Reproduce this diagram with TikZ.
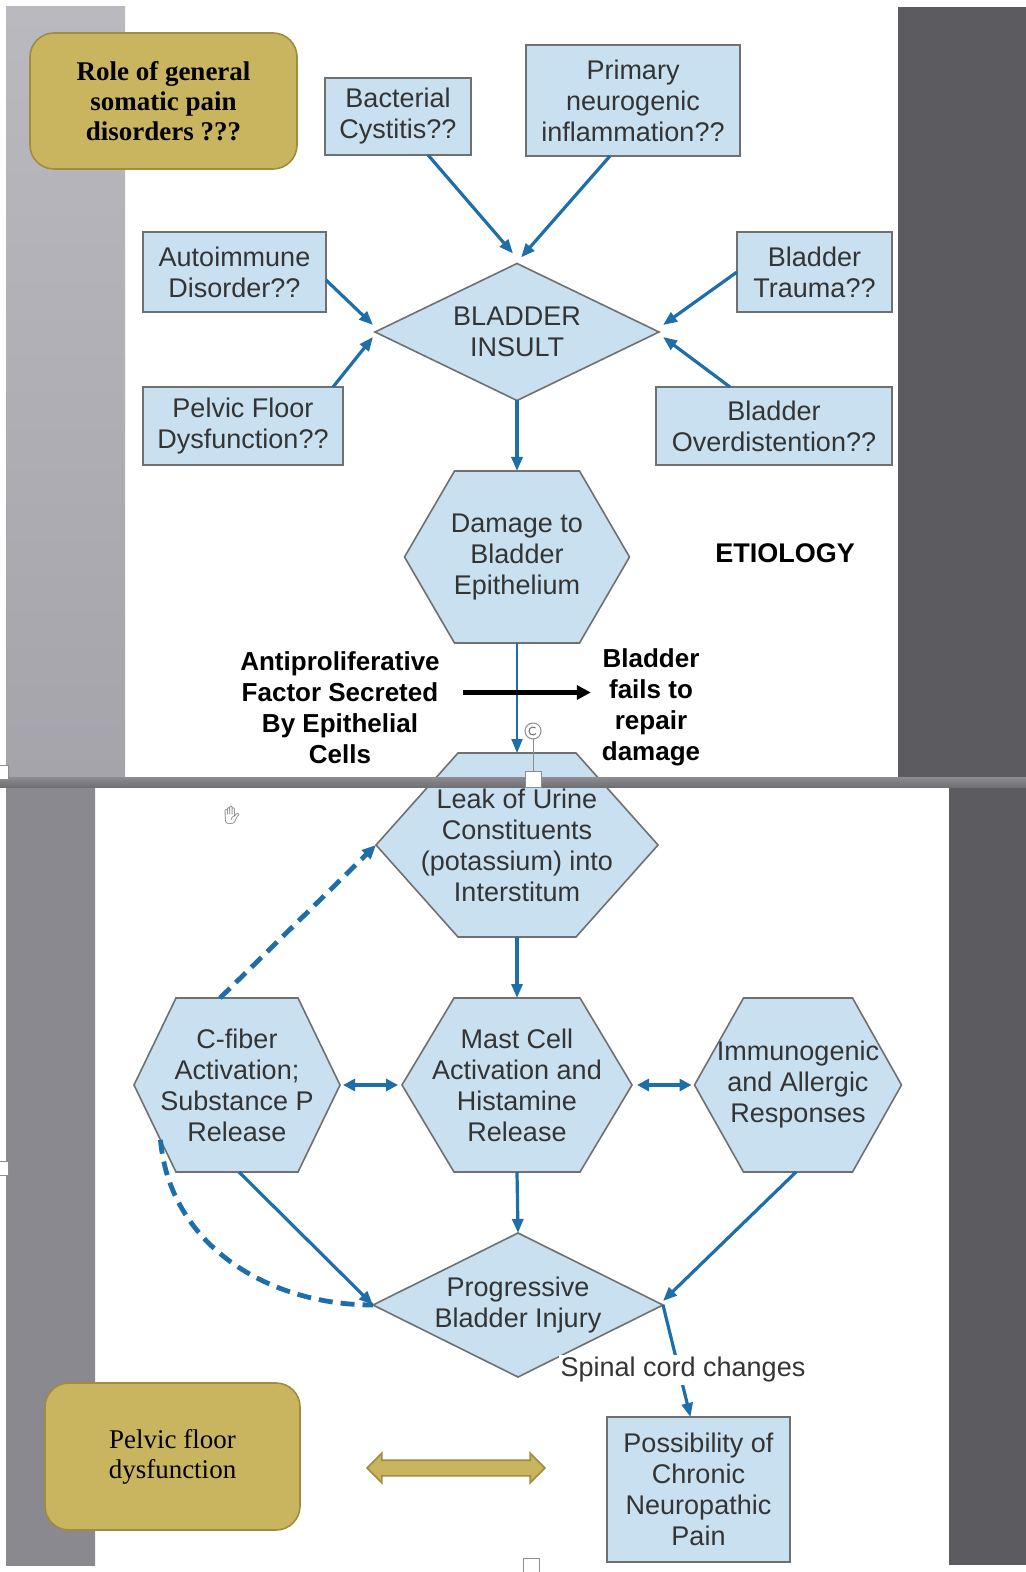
\documentclass[tikz,border=0pt]{standalone}
\usepackage{fontspec}
\setmainfont{Liberation Serif}
\setsansfont{Liberation Sans}
\newfontfamily\emojifont{Noto Emoji}
\usetikzlibrary{arrows.meta,positioning,calc,shapes.geometric,shapes.arrows}
\definecolor{boxblue}{RGB}{200,224,240}
\definecolor{boxline}{RGB}{112,112,112}
\definecolor{flowblue}{RGB}{30,110,170}
\definecolor{goldfill}{RGB}{201,181,96}
\definecolor{goldline}{RGB}{160,140,62}
\definecolor{txtgray}{RGB}{52,52,52}
\definecolor{sidelight}{RGB}{186,185,192}
\definecolor{sidemid}{RGB}{165,164,171}
\definecolor{sidedark}{RGB}{138,137,144}
\definecolor{darkside}{RGB}{92,91,96}
\definecolor{bargray}{RGB}{112,111,116}
\pgfdeclarelayer{slide}
\pgfdeclarelayer{shapes}
\pgfsetlayers{slide,shapes,main}
\tikzset{
  bluebox/.style={draw=boxline, fill=boxblue, line width=0.8pt, inner sep=1pt, outer sep=0pt,
                  align=center, text=txtgray, font=\sffamily\fontsize{13.5}{15.5}\selectfont},
  hexnode/.style={rectangle, inner sep=0pt, outer sep=0pt, align=center, text=txtgray,
                  font=\sffamily\fontsize{13.5}{15.5}\selectfont},
  hexline/.style={draw=boxline, fill=boxblue, line width=0.8pt},
  dia/.style={diamond, draw=boxline, fill=boxblue, line width=0.8pt, inner sep=0pt, outer sep=0pt,
              aspect=2, align=center, text=txtgray, font=\sffamily\fontsize{13.5}{15.5}\selectfont},
  goldbox/.style={draw=goldline, fill=goldfill, line width=0.8pt, rounded corners=12pt, align=center,
                  text=black, font=\rmfamily\fontsize{13.5}{15}\selectfont},
  boldtxt/.style={align=center, text=black, font=\sffamily\bfseries\fontsize{13}{15.5}\selectfont},
  flow/.style={-{Triangle[length=7pt,width=5.5pt]}, flowblue, line width=1.6pt},
  biflow/.style={{Triangle[length=6pt,width=6pt]}-{Triangle[length=6pt,width=6pt]}, flowblue, line width=2.2pt},
  dashflow/.style={flowblue, line width=2.4pt, dash pattern=on 7pt off 4pt},
  blkarr/.style={-{Triangle[length=7pt,width=7pt]}, black, line width=2.5pt},
  handle/.style={draw=boxline!80, fill=white, line width=0.5pt},
}
\begin{document}
\begin{tikzpicture}[x=0.5pt, y=-0.5pt]
  % slide background
  \begin{pgfonlayer}{slide}
    \fill[white] (0,0) rectangle (1026,1572);
    \shade[top color=sidelight, bottom color=sidemid] (6,7) rectangle (125,777);
    \fill[darkside] (898,7) rectangle (1026,777);
    \shade[top color=sidedark, middle color=sidelight, bottom color=sidedark] (6,787) rectangle (95,1565);
    \fill[darkside] (949,787) rectangle (1026,1565);
  \end{pgfonlayer}
  \useasboundingbox (0,0) rectangle (1026,1572);

  % upper part: causes
  \node[goldbox, minimum width=133.5pt, minimum height=68pt, font=\rmfamily\bfseries\fontsize{13.5}{15}\selectfont]
       (role) at (163.5,101) {Role of general\\somatic pain\\disorders ???};
  \node[bluebox, minimum width=73pt, minimum height=38.5pt] (bact) at (398,116.5) {Bacterial\\Cystitis??};
  \node[bluebox, minimum width=107pt, minimum height=55.5pt] (prim) at (633,100.5) {Primary\\neurogenic\\inflammation??};
  \node[bluebox, minimum width=91.5pt, minimum height=40pt] (auto) at (234.5,272) {Autoimmune\\Disorder??};
  \node[bluebox, minimum width=100pt, minimum height=39pt] (pelv) at (243,426) {Pelvic Floor\\Dysfunction??};
  \node[bluebox, minimum width=77.5pt, minimum height=40pt] (trau) at (814.5,272) {Bladder\\Trauma??};
  \node[bluebox, minimum width=118pt, minimum height=39pt] (over) at (774,426) {Bladder\\Overdistention??};
  \node[dia, minimum width=142pt, minimum height=68.5pt] (insult) at (517,332) {BLADDER\\INSULT};

  \node[hexnode, minimum width=112.5pt, minimum height=86pt] (dmg) at (517,557) {Damage to\\Bladder\\Epithelium};
  \node[boldtxt, font=\sffamily\bfseries\fontsize{13.5}{15.5}\selectfont] (etio) at (785,553) {ETIOLOGY};
  \node[boldtxt] (apf) at (340,707.5) {Antiproliferative\\Factor Secreted\\By Epithelial\\Cells};
  \node[boldtxt] (fail) at (651,707.5) {Bladder\\fails to\\repair\\damage};

  % lower part
  \node[hexnode, minimum width=141pt, minimum height=92pt] (leak) at (517,845)
       {Leak of Urine\\Constituents\\(potassium) into\\Interstitum};
  \node[hexnode, minimum width=103pt, minimum height=87pt] (cfib) at (237,1085)
       {C-fiber\\Activation;\\Substance P\\Release};
  \node[hexnode, minimum width=115pt, minimum height=87pt] (mast) at (517,1085)
       {Mast Cell\\Activation and\\Histamine\\Release};
  \node[hexnode, minimum width=103.5pt, minimum height=87pt] (immu) at (798,1085)
       {Immunogenic\\and Allergic\\Responses};
  \node[dia, minimum width=145pt, minimum height=72pt] (prog) at (518,1305) {Progressive\\Bladder Injury};
  \node[bluebox, minimum width=91.5pt, minimum height=72.5pt] (poss) at (698.5,1489.5)
       {Possibility of\\Chronic\\Neuropathic\\Pain};
  \node[goldbox, minimum width=127.5pt, minimum height=73.5pt] (pfd) at (172.5,1456.5) {Pelvic floor\\dysfunction};
  \node[double arrow, draw=goldline, fill=goldfill, line width=0.8pt, minimum height=89pt, inner sep=3.5pt,
        double arrow head extend=3.5pt] (pfdarr) at (456,1468) {};

  % hexagon outlines behind the texts
  \begin{pgfonlayer}{shapes}
    \foreach \n/\c in {dmg/50, leak/82, cfib/42, mast/52, immu/49}
      \draw[hexline] (\n.west) -- ($(\n.north west)+(\c,0)$) -- ($(\n.north east)-(\c,0)$)
        -- (\n.east) -- ($(\n.south east)-(\c,0)$) -- ($(\n.south west)+(\c,0)$) -- cycle;
  \end{pgfonlayer}

  % connectors
  \draw[flow] ([xshift=15pt]bact.south) -- ([xshift=-2pt,yshift=5pt]insult.north);
  \draw[flow] ([xshift=-11.5pt]prim.south) -- ([xshift=2pt,yshift=3pt]insult.north);
  \draw[flow] ([yshift=-4pt]auto.east) -- ([xshift=-1pt,yshift=3.5pt]insult.west);
  \draw[flow] ([xshift=-5pt]pelv.north east) -- ([xshift=-1pt,yshift=-2.5pt]insult.west);
  \draw[flow] (trau.west) -- ([xshift=2pt,yshift=3.5pt]insult.east);
  \draw[flow] ([xshift=-22pt]over.north) -- ([xshift=2pt,yshift=-2.5pt]insult.east);
  \draw[flow] (insult.south) -- (dmg.north);
  \draw[flow, line width=1pt] (dmg.south) -- (leak.north);
  \draw[blkarr] ([xshift=8pt,yshift=7.5pt]apf.east) -- ([xshift=-2pt,yshift=7.5pt]fail.west);

  % separator between the two slides
  \shade[top color=bargray!80, bottom color=bargray] (0,777) rectangle (1026,787);
  \draw[handle] (533,739) -- (533,771);
  \draw[handle] (533,731) circle (4pt);
  \draw[boxline, line width=0.5pt] ([shift={(533,731)}]50:2pt) arc (50:320:2pt);
  \draw[handle] (525,771) rectangle (541,787);
  \draw[handle] (-2,765) rectangle (8,779);
  \draw[handle] (-2,1161) rectangle (8,1175);
  \draw[handle] (523,1558) rectangle (539,1574);
  \node[text=txtgray!70, font=\emojifont\fontsize{9}{9}\selectfont] (cursor) at (232,815) {✋};

  \draw[flow] (leak.south) -- (mast.north);
  \draw[biflow, shorten <=1.5pt, shorten >=2pt] (cfib.east) -- (mast.west);
  \draw[biflow, shorten <=2.5pt, shorten >=1.5pt] (mast.east) -- (immu.west);
  \draw[dashflow, -{Triangle[length=7pt,width=6pt]}] ($(cfib.north)+(-17,0)$) -- (leak.west);
  \draw[dashflow] ($(cfib.west)!0.63!($(cfib.south west)+(42,0)$)$) to[out=-85, in=180] (prog.west);
  \draw[flow] ([xshift=1pt]cfib.south) -- (prog.west);
  \draw[flow] (mast.south) -- (prog.north);
  \draw[flow] ([xshift=-1pt]immu.south) -- ([yshift=2pt]prog.east);
  \draw[flow] (prog.east) -- ([xshift=-4pt]poss.north);
  \node[fill=white, inner sep=1pt, text=txtgray, font=\sffamily\fontsize{13.5}{15.5}\selectfont]
       (spinal) at (683,1370) {Spinal cord changes};
\end{tikzpicture}
\end{document}
